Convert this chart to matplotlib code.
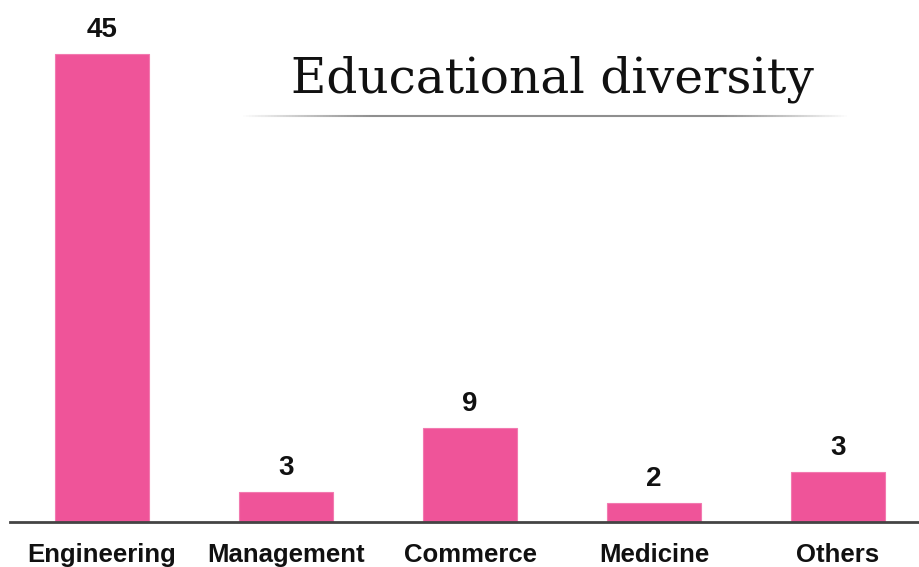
import matplotlib
matplotlib.use('Agg')

import matplotlib.pyplot as plt
import numpy as np
from matplotlib.collections import LineCollection

# categories, printed counts and bar heights as drawn in the picture
categories = ['Engineering', 'Management', 'Commerce', 'Medicine', 'Others']
counts = [45, 3, 9, 2, 3]
bar_heights = [45, 2.9, 9.0, 1.8, 4.8]
title = 'Educational diversity'

bar_colour = '#EF5499'

W, H = 919, 567
fig = plt.figure(figsize=(W / 100, H / 100), dpi=100)

# axes: baseline at y=522 px, left edge 10 px
ax = fig.add_axes([10 / W, 45 / H, 1 - 10 / W, 522 / H])
x = np.arange(len(categories))
ax.bar(x, bar_heights, width=0.51, color=bar_colour, edgecolor='#F27AB0', linewidth=0.8, zorder=2)
ax.set_xlim(-0.5, 4.44)
ax.set_ylim(0, 45 * 522 / 468)

for xi, h, c in zip(x, bar_heights, counts):
        ax.annotate(str(c), (xi, h), xytext=(0, 8), textcoords='offset points',
                    ha='center', va='bottom', fontsize=20, fontweight='bold',
                    family='Liberation Sans', color='#111111')

ax.set_xticks(x)
ax.set_xticklabels(categories, fontsize=18.5, fontweight='bold', family='Liberation Sans', color='#111111')
ax.tick_params(axis='x', length=0, pad=15)
ax.set_yticks([])
for side in ['top', 'right', 'left']:
        ax.spines[side].set_visible(False)
ax.spines['bottom'].set_color('#444444')
ax.spines['bottom'].set_linewidth(2)
ax.patch.set_alpha(0)

# title and the faded rule under it
fig.text(552 / W, 1 - 93 / H, title, ha='center', va='baseline',
         fontsize=35, family='DejaVu Serif', color='#111111')

xs = np.linspace(240, 850, 200)
segs = [[(xs[i] / W, 1 - 116 / H), (xs[i + 1] / W, 1 - 116 / H)] for i in range(len(xs) - 1)]
t = np.linspace(0, 1, len(segs))
alphas = np.clip(np.sin(np.pi * t) * 1.6, 0, 1) * 0.8
cols = [(0.45, 0.45, 0.45, a) for a in alphas]
lc = LineCollection(segs, colors=cols, linewidths=1.5, transform=fig.transFigure)
fig.add_artist(lc)

fig.savefig('out.png', dpi=100)
